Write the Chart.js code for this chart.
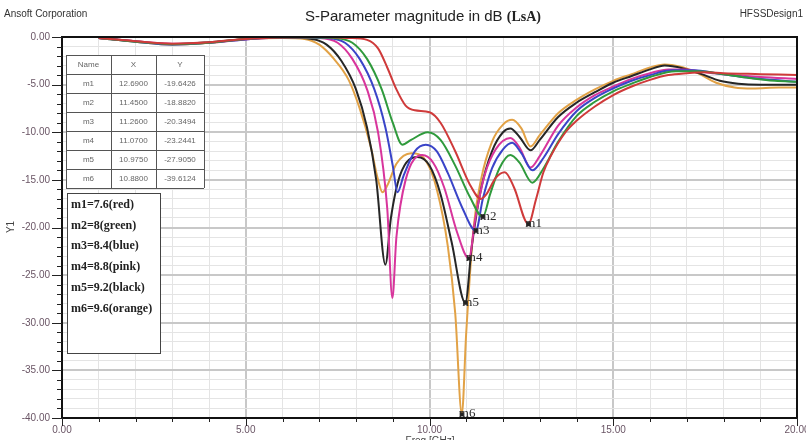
<!DOCTYPE html>
<html>
<head>
<meta charset="utf-8">
<script src="https://cdn.jsdelivr.net/npm/chart.js@4.4.1/dist/chart.umd.min.js"></script>
<style>
    html, body { margin: 0; padding: 0; background: #fff; }
    #chart { display: block; }
</style>
</head>
<body>
<canvas id="chart" width="806" height="440"></canvas>
<script>
// curves: [freq GHz, dB]
const red = [[1,-0.1],[2,-0.45],[3,-0.7],[4,-0.55],[5,-0.2],[6,-0.05],[7,0],[7.8,-0.1],[8.3,-0.3],[8.6,-1.2],[8.85,-3.2],[9.1,-5.5],[9.35,-7.2],[9.6,-7.7],[10.0,-7.9],[10.3,-9],[10.7,-12],[11.1,-15.5],[11.4,-17],[11.55,-16.5],[11.8,-14.8],[12.05,-14.2],[12.3,-15.8],[12.69,-19.64],[12.9,-17],[13.1,-14.2],[13.3,-12.5],[13.7,-10],[14,-8.8],[14.5,-7.3],[15,-6.1],[15.5,-5.2],[16,-4.5],[16.5,-4.0],[17,-3.8],[17.5,-3.7],[18,-3.8],[19,-3.9],[20,-4.0]];
const green = [[1,-0.1],[2,-0.5],[3,-0.75],[4,-0.6],[5,-0.2],[6,-0.05],[7,-0.05],[7.4,-0.1],[7.9,-0.6],[8.3,-2.3],[8.7,-5.5],[9.0,-9.0],[9.26,-11.3],[9.5,-10.8],[9.95,-10.0],[10.3,-10.8],[10.7,-13.5],[11.1,-16.8],[11.45,-18.88],[11.65,-16.5],[11.9,-13.8],[12.2,-12.4],[12.45,-13.2],[12.8,-15.3],[13.1,-13.8],[13.5,-11.0],[14,-8.3],[14.5,-6.8],[15,-5.7],[15.5,-4.9],[16,-4.2],[16.7,-3.6],[17.3,-3.6],[18,-3.9],[18.7,-4.3],[19.4,-4.6],[20,-4.7]];
const blue = [[1,-0.1],[2,-0.5],[3,-0.8],[4,-0.6],[5,-0.25],[6,-0.05],[6.8,-0.05],[7.2,-0.1],[7.7,-0.6],[8.1,-2.3],[8.5,-5.5],[8.8,-9.5],[9.0,-13.5],[9.13,-16.3],[9.3,-14.5],[9.6,-12],[9.9,-11.3],[10.2,-12],[10.5,-14.3],[10.9,-18],[11.26,-20.35],[11.45,-17],[11.7,-13.8],[12.0,-11.8],[12.25,-11.1],[12.5,-12.2],[12.8,-14.0],[13.1,-12.7],[13.5,-10.2],[14,-7.8],[14.5,-6.4],[15,-5.4],[15.5,-4.6],[16,-4.0],[16.6,-3.5],[17.2,-3.5],[17.8,-3.8],[18.5,-4.2],[19.3,-4.5],[20,-4.7]];
const pink = [[1,-0.1],[2,-0.45],[3,-0.7],[4,-0.6],[5,-0.25],[6,-0.05],[7.0,-0.1],[7.5,-0.6],[7.9,-2.3],[8.3,-5.5],[8.6,-10],[8.85,-18],[8.99,-27.4],[9.1,-21],[9.35,-15],[9.8,-12.4],[10.1,-13.2],[10.4,-15.8],[10.75,-20.5],[11.07,-23.24],[11.25,-19],[11.5,-14.5],[11.8,-11.8],[12.2,-10.6],[12.45,-11.6],[12.75,-13.7],[13.0,-12.5],[13.5,-9.3],[14,-7.4],[14.5,-6.1],[15,-5.2],[15.5,-4.4],[16,-3.8],[16.5,-3.4],[17,-3.4],[17.5,-3.7],[18,-3.9],[19,-4.2],[20,-4.4]];
const black = [[1,-0.1],[2,-0.45],[3,-0.75],[4,-0.55],[5,-0.2],[6,-0.05],[6.8,-0.2],[7.2,-0.8],[7.6,-2.5],[8.0,-5.5],[8.3,-9.5],[8.55,-15],[8.8,-23.9],[8.95,-19],[9.2,-14.5],[9.67,-12.6],[10.0,-13.5],[10.3,-16.5],[10.6,-21.5],[10.975,-27.9],[11.15,-22],[11.4,-16],[11.7,-12],[12.0,-10],[12.2,-9.6],[12.45,-10.5],[12.75,-11.9],[13.0,-10.8],[13.5,-8.4],[14,-6.9],[14.5,-5.8],[15,-4.8],[15.5,-4.1],[16,-3.4],[16.4,-3.0],[16.9,-3.3],[17.4,-3.9],[17.9,-4.6],[18.4,-4.9],[19,-5.0],[20,-5.0]];
const orange = [[1,-0.1],[2,-0.5],[3,-0.8],[4,-0.6],[5,-0.2],[6,-0.1],[6.6,-0.2],[7,-0.8],[7.4,-2.3],[7.8,-4.5],[8.1,-7.5],[8.4,-11.5],[8.6,-15],[8.72,-16.3],[8.85,-15.6],[9.1,-13.3],[9.5,-12.2],[9.9,-13.0],[10.2,-16],[10.5,-22],[10.7,-29],[10.88,-39.6],[11.0,-31],[11.2,-20],[11.4,-15],[11.7,-11],[12.0,-9.2],[12.25,-8.7],[12.5,-9.6],[12.75,-11.5],[13.0,-10.3],[13.5,-8.0],[14,-6.6],[14.5,-5.5],[15,-4.6],[15.5,-3.9],[16,-3.2],[16.4,-2.9],[16.8,-3.1],[17.3,-3.8],[17.8,-4.8],[18.3,-5.3],[18.8,-5.4],[19.5,-5.3],[20,-5.3]];

// marker table
const markerNames = ['m1', 'm2', 'm3', 'm4', 'm5', 'm6'];
const markerX = [12.69, 11.45, 11.26, 11.07, 10.975, 10.88];
const markerY = [-19.6426, -18.8820, -20.3494, -23.2441, -27.9050, -39.6124];
const noteLines = ['m1=7.6(red)', 'm2=8(green)', 'm3=8.4(blue)', 'm4=8.8(pink)', 'm5=9.2(black)', 'm6=9.6(orange)'];

const series = [
    { d: red, c: '#cf3a3a' },
    { d: green, c: '#2f9a3c' },
    { d: blue, c: '#3a44c8' },
    { d: pink, c: '#d8359c' },
    { d: black, c: '#262626' },
    { d: orange, c: '#e2a246' }
];

const tickFont = { family: "'Liberation Sans Narrow', 'Liberation Sans', Arial", size: 10 };
const tickColor = '#6a5565';

function gridColor(ctx) {
    return (ctx.tick && ctx.tick.value % 5 === 0) ? '#c8c8c8' : '#e4e4e4';
}
function gridWidth(ctx) {
    return (ctx.tick && ctx.tick.value % 5 === 0) ? 2 : 1;
}

// frame, ticks, tables, marker labels, titles
const decorPlugin = {
    id: 'decor',
    beforeDraw(chart) {
        const c = chart.ctx;
        c.save();
        c.fillStyle = '#fff';
        c.fillRect(0, 0, chart.width, chart.height);
        c.restore();
    },
    afterDatasetsDraw(chart) {
        const c = chart.ctx;
        const a = chart.chartArea;
        const xs = chart.scales.x, ys = chart.scales.y;
        c.save();

        // marker points + labels
        c.font = "13px 'Liberation Serif', 'Times New Roman', serif";
        c.textAlign = 'left';
        c.textBaseline = 'alphabetic';
        for (let i = 0; i < markerNames.length; i++) {
            const px = xs.getPixelForValue(markerX[i]);
            const py = ys.getPixelForValue(markerY[i]);
            c.fillStyle = '#222';
            c.fillRect(px - 2, py - 2, 4, 4);
            c.fillStyle = '#2a2a2a';
            c.fillText(markerNames[i], px - 3, py + 3);
        }

        // frame
        c.strokeStyle = '#111';
        c.lineWidth = 2;
        c.strokeRect(a.left, a.top, a.right - a.left, a.bottom - a.top);

        // axis tick marks
        c.lineWidth = 1;
        c.strokeStyle = '#222';
        for (let v = -40; v <= 0; v++) {
            const py = Math.round(ys.getPixelForValue(v)) + 0.5;
            const len = v % 5 === 0 ? 10 : 5;
            c.beginPath(); c.moveTo(a.left - len, py); c.lineTo(a.left, py); c.stroke();
        }
        for (let v = 0; v <= 20; v++) {
            const px = Math.round(xs.getPixelForValue(v)) + 0.5;
            const len = v % 5 === 0 ? 8 : 4;
            c.beginPath(); c.moveTo(px, a.bottom); c.lineTo(px, a.bottom + len); c.stroke();
        }

        // marker table
        const tx = [66, 111, 156, 204];
        const ty0 = 55, rh = 19;
        c.fillStyle = '#fff';
        c.fillRect(tx[0], ty0, tx[3] - tx[0], rh * 7);
        c.strokeStyle = '#555';
        c.lineWidth = 1;
        for (let r = 0; r <= 7; r++) {
            c.beginPath(); c.moveTo(tx[0], ty0 + r * rh + 0.5); c.lineTo(tx[3], ty0 + r * rh + 0.5); c.stroke();
        }
        tx.forEach(x => { c.beginPath(); c.moveTo(x + 0.5, ty0); c.lineTo(x + 0.5, ty0 + rh * 7); c.stroke(); });
        c.font = "8px 'Liberation Sans Narrow', 'Liberation Sans', Arial";
        c.fillStyle = '#666';
        c.textAlign = 'center';
        c.textBaseline = 'middle';
        const cx = [(tx[0] + tx[1]) / 2, (tx[1] + tx[2]) / 2, (tx[2] + tx[3]) / 2];
        c.fillText('Name', cx[0], ty0 + rh / 2);
        c.fillText('X', cx[1], ty0 + rh / 2);
        c.fillText('Y', cx[2], ty0 + rh / 2);
        for (let i = 0; i < markerNames.length; i++) {
            const y = ty0 + (i + 1.5) * rh;
            c.fillText(markerNames[i], cx[0], y);
            c.fillText(markerX[i].toFixed(4), cx[1], y);
            c.fillText(markerY[i].toFixed(4), cx[2], y);
        }

        // note box
        c.fillStyle = '#fff';
        c.fillRect(67, 193, 93, 160);
        c.strokeStyle = '#444';
        c.strokeRect(67.5, 193.5, 93, 160);
        c.font = "bold 12px 'Liberation Serif', 'Times New Roman', serif";
        c.fillStyle = '#222';
        c.textAlign = 'left';
        c.textBaseline = 'middle';
        noteLines.forEach((t, i) => c.fillText(t, 71, 205 + i * 20.7));

        // titles
        c.textBaseline = 'middle';
        c.font = "10px 'Liberation Sans Narrow', 'Liberation Sans', Arial";
        c.fillStyle = '#333';
        c.textAlign = 'left';
        c.fillText('Ansoft Corporation', 4, 14);
        c.textAlign = 'right';
        c.fillText('HFSSDesign1', 803, 14);

        const t1 = 'S-Parameter magnitude in dB ';
        const t2 = '(LsA)';
        const f1 = "15px 'Liberation Sans Narrow', 'Liberation Sans', Arial";
        const f2 = "bold 14px 'Liberation Serif', 'Times New Roman', serif";
        c.font = f1; const w1 = c.measureText(t1).width;
        c.font = f2; const w2 = c.measureText(t2).width;
        let sx = 423 - (w1 + w2) / 2;
        c.textAlign = 'left';
        c.fillStyle = '#222';
        c.font = f1; c.fillText(t1, sx, 17);
        c.font = f2; c.fillText(t2, sx + w1, 17);

        // axis titles
        c.font = "10px 'Liberation Sans Narrow', 'Liberation Sans', Arial";
        c.fillStyle = '#444';
        c.textAlign = 'center';
        c.fillText('Freq [GHz]', 430, 441);
        c.translate(11, 227);
        c.rotate(-Math.PI / 2);
        c.fillText('Y1', 0, 0);
        c.restore();
    }
};

new Chart(document.getElementById('chart'), {
    type: 'line',
    data: {
        datasets: series.map(s => ({
            data: s.d.map(p => ({ x: p[0], y: p[1] })),
            borderColor: s.c,
            borderWidth: 2,
            pointRadius: 0,
            fill: false,
            cubicInterpolationMode: 'monotone'
        }))
    },
    options: {
        responsive: false,
        animation: false,
        layout: { padding: { top: 37, right: 9, left: 0, bottom: 0 } },
        plugins: { legend: { display: false }, tooltip: { enabled: false }, title: { display: false } },
        scales: {
            x: {
                type: 'linear', min: 0, max: 20,
                border: { display: false },
                grid: { color: gridColor, lineWidth: gridWidth, drawTicks: false },
                ticks: {
                    stepSize: 1, autoSkip: false, maxRotation: 0, padding: 6,
                    font: tickFont, color: tickColor,
                    callback: v => v % 5 === 0 ? v.toFixed(2) : ''
                },
                afterFit: s => { s.height = 22; s.paddingLeft = 0; s.paddingRight = 0; }
            },
            y: {
                min: -40, max: 0,
                border: { display: false },
                grid: { color: gridColor, lineWidth: gridWidth, drawTicks: false },
                ticks: {
                    stepSize: 1, autoSkip: false, padding: 12,
                    font: tickFont, color: tickColor,
                    callback: v => v % 5 === 0 ? v.toFixed(2) : ''
                },
                afterFit: s => { s.width = 62; s.paddingTop = 0; s.paddingBottom = 0; }
            }
        }
    },
    plugins: [decorPlugin]
});
</script>
</body>
</html>
